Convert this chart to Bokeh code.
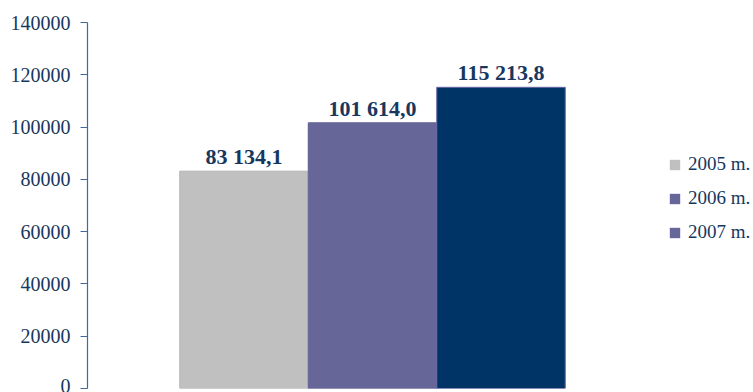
from bokeh.plotting import figure
from bokeh.models import ColumnDataSource, Range1d, Legend, LegendItem, FixedTicker, NumeralTickFormatter
from bokeh.core.properties import value
from bokeh.embed import file_html
from bokeh.resources import INLINE

categories = ["2005 m.", "2006 m.", "2007 m."]
values = [83134.1, 101614.0, 115213.8]
y_ticks = [0, 20000, 40000, 60000, 80000, 100000, 120000, 140000]

bar_colors = ["#C0C0C0", "#666699", "#003366"]
outline_colors = ["#B8B8B8", "#666699", "#6E6EA8"]
legend_colors = ["#C0C0C0", "#666699", "#666699"]
TXT = "#17375E"
FONT = "Liberation Serif"

labels = [f"{v:,.1f}".replace(",", " ").replace(".", ",") for v in values]
xs = list(range(len(categories)))

src = ColumnDataSource(dict(x=xs, top=values, color=bar_colors, ocolor=outline_colors,
                            lcolor=legend_colors, label=labels))

p = figure(width=753, height=392, output_backend="svg", toolbar_location=None,
           x_range=Range1d(-1.218, 3.965), y_range=Range1d(0, 140000))
p.min_border_left = 87
p.min_border_right = 0
p.min_border_top = 22
p.min_border_bottom = 4
p.outline_line_color = None
p.background_fill_color = "white"
p.border_fill_color = "white"
p.xgrid.visible = False
p.ygrid.visible = False
p.xaxis.visible = False

# underlying bars carrying the legend colours (fully covered by the real bars)
leg_r = p.vbar(x="x", top="top", bottom=0, width=1.0, source=src,
               fill_color="lcolor", line_color=None)

p.vbar(x="x", top="top", bottom=0, width=1.0, source=src, fill_color="color",
       line_color="ocolor", line_width=1)

p.text(x="x", y="top", text="label", source=src, text_align="center",
       text_baseline="bottom", y_offset=-2, text_font=value(FONT),
       text_font_style="bold", text_font_size="22px", text_color=TXT)

yax = p.yaxis[0]
yax.ticker = FixedTicker(ticks=y_ticks)
yax.formatter = NumeralTickFormatter(format="0")
yax.axis_line_color = "#3F6A9A"
yax.axis_line_width = 1.2
yax.major_tick_line_color = "#3F6A9A"
yax.major_tick_out = 7
yax.major_tick_in = 0
yax.minor_tick_out = 0
yax.minor_tick_in = 0
yax.major_label_standoff = 10
yax.major_label_text_font = FONT
yax.major_label_text_font_size = "20px"
yax.major_label_text_color = TXT

items = [LegendItem(label=cat, renderers=[leg_r], index=i)
         for i, cat in enumerate(categories)]

legend = Legend(items=items, location=(581, 145), border_line_color=None,
                background_fill_alpha=0, padding=0, margin=0, spacing=12,
                glyph_width=13, glyph_height=13, label_height=20,
                label_standoff=7, label_text_font=FONT,
                label_text_font_size="19px", label_text_color=TXT)
p.add_layout(legend)

open("out.html", "w").write(file_html(p, INLINE))
